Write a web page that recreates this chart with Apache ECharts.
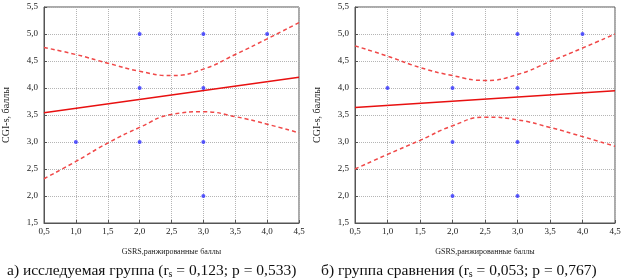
<!DOCTYPE html>
<html lang="ru">
<head>
	<meta charset="UTF-8">
	<title>CGI-s vs GSRS</title>
	<style>
	body, div {
		margin: 0;
		padding: 0;
	}
	#chart {
		width: 624px;
		height: 280px;
		background: #fff;
	}
	</style>
</head>
<body>
	<div id="chart"></div>

	<script src="https://cdn.jsdelivr.net/npm/echarts@6/dist/echarts.min.js"></script>
	<script>

	// --- data ---
	// a) study group
	var pointsA = [[2, 5], [3, 5], [4, 5], [2, 4], [3, 4], [1, 3], [2, 3], [3, 3], [3, 2]];
	var fitA = [[0.5, 3.54], [4.5, 4.20]];
	var bandX = [0.5, 1.0, 1.5, 2.0, 2.5, 3.0, 3.5, 4.0, 4.5];
	var upperA = [4.75, 4.62, 4.46, 4.31, 4.23, 4.35, 4.62, 4.91, 5.21];
	var lowerA = [2.32, 2.64, 2.98, 3.27, 3.51, 3.56, 3.47, 3.33, 3.17];

	// b) comparison group
	var pointsB = [[2, 5], [3, 5], [4, 5], [1, 4], [2, 4], [3, 4], [2, 3], [3, 3], [2, 2], [3, 2]];
	var fitB = [[0.5, 3.64], [4.5, 3.95]];
	var upperB = [4.78, 4.59, 4.38, 4.23, 4.14, 4.25, 4.49, 4.74, 5.00];
	var lowerB = [2.50, 2.77, 3.03, 3.30, 3.46, 3.41, 3.27, 3.10, 2.92];

	var xName = 'GSRS,ранжированные баллы';
	var yName = 'CGI-s, баллы';

	function pairs(xs, ys) {
		var out = [];
		for (var i = 0; i < xs.length; i++) out.push([xs[i], ys[i]]);
		return out;
	}

	function fmt(v) {
		return v.toFixed(1).replace('.', ',');
	}

	var serif = 'Liberation Serif';

	function xAxisFor(g) {
		return {
			gridIndex: g,
			type: 'value',
			min: 0.5, max: 4.5, interval: 0.5,
			name: xName,
			nameLocation: 'middle',
			nameGap: 25,
			nameTextStyle: { fontFamily: serif, fontSize: 8, color: '#222' },
			axisLine: { lineStyle: { color: '#555' } },
			axisTick: { inside: true, length: 3, lineStyle: { color: '#555' } },
			axisLabel: { formatter: fmt, fontFamily: serif, fontSize: 9, color: '#222', margin: 4 },
			splitLine: { lineStyle: { color: '#b5b5b5', type: [1, 1] } }
		};
	}

	function yAxisFor(g) {
		return {
			gridIndex: g,
			type: 'value',
			min: 1.5, max: 5.5, interval: 0.5,
			name: yName,
			nameLocation: 'middle',
			nameGap: 33,
			nameTextStyle: { fontFamily: serif, fontSize: 10, color: '#222' },
			axisLine: { show: true, lineStyle: { color: '#555' } },
			axisTick: { show: true, inside: true, length: 3, lineStyle: { color: '#555' } },
			axisLabel: { formatter: fmt, fontFamily: serif, fontSize: 9, color: '#222', margin: 6 },
			splitLine: { lineStyle: { color: '#b5b5b5', type: [1, 1] } }
		};
	}

	function seriesFor(g, pts, fit, up, low) {
		var band = { color: '#f04848', width: 1.5, type: [4, 3] };
		return [
			{ type: 'line', xAxisIndex: g, yAxisIndex: g, data: pairs(bandX, up), smooth: true,
			  symbol: 'none', lineStyle: band, z: 2 },
			{ type: 'line', xAxisIndex: g, yAxisIndex: g, data: pairs(bandX, low), smooth: true,
			  symbol: 'none', lineStyle: band, z: 2 },
			{ type: 'line', xAxisIndex: g, yAxisIndex: g, data: fit,
			  symbol: 'none', lineStyle: { color: '#e81010', width: 1.5 }, z: 3 },
			{ type: 'scatter', xAxisIndex: g, yAxisIndex: g, data: pts,
			  symbol: 'circle', symbolSize: 4, itemStyle: { color: '#3030ff' }, z: 4 }
		];
	}

	var captionRich = {
		a: { fontFamily: serif, fontSize: 15.5, fontWeight: 'normal', color: '#111' },
		s: { fontFamily: serif, fontSize: 10, fontWeight: 'normal', color: '#111', verticalAlign: 'bottom', padding: [6, 0, 0, 0] }
	};

	var option = {
		animation: false,
		title: [
			{
				left: 2, top: 258,
				text: '{a|а) исследуемая группа (r}{s|s}{a| = 0,123; p = 0,533)}',
				textStyle: { fontWeight: 'normal', rich: captionRich }
			},
			{
				left: 316, top: 258,
				text: '{a|б) группа сравнения (r}{s|s}{a| = 0,053; p = 0,767)}',
				textStyle: { fontWeight: 'normal', rich: captionRich }
			}
		],
		grid: [
			{ left: 39, width: 260, top: 7, height: 216, show: true, borderColor: '#555', borderWidth: 1 },
			{ left: 355, width: 260, top: 7, height: 216, show: true, borderColor: '#555', borderWidth: 1 }
		],
		xAxis: [xAxisFor(0), xAxisFor(1)],
		yAxis: [yAxisFor(0), yAxisFor(1)],
		series: seriesFor(0, pointsA, fitA, upperA, lowerA)
			.concat(seriesFor(1, pointsB, fitB, upperB, lowerB))
	};

	var myChart = echarts.init(document.getElementById('chart'));
	myChart.setOption(option);
	</script>
</body>
</html>
